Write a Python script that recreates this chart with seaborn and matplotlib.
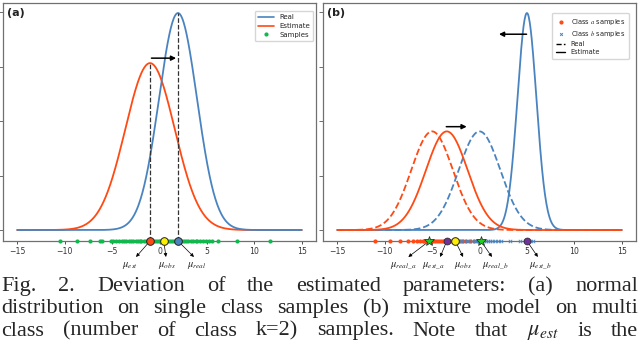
import numpy as np
import pandas as pd
import seaborn as sns
import matplotlib.pyplot as plt
from matplotlib.lines import Line2D

# ---------------- values ----------------
x_range = (-15, 15)
x_ticks = [-15, -10, -5, 0, 5, 10, 15]

# (a) single class
a_real_mu, a_real_sd = 1.95, 2.0
a_est_mu, a_est_sd = -1.0, 2.6
a_obs_mu = 0.45
a_samples = [-10.5, -8.7, -7.3, -6.3, -6.1, -5.1, -4.9, -4.6, -4.3, -4.0, -3.7,
             -3.5, -3.2, -3.0, -2.8, -2.5, -2.3, -2.1, -1.9, -1.6, -1.4, -1.2,
             -0.9, -0.7, -0.5, -0.3, -0.1, 0.1, 0.3, 0.5, 0.7, 0.9, 1.1, 1.3,
             1.5, 1.7, 1.9, 2.2, 2.4, 2.6, 2.8, 3.0, 3.3, 3.5, 3.8, 4.0, 4.3,
             4.6, 4.9, 5.2, 5.5, 6.2, 8.2, 11.7]

# (b) mixture of two classes
b_real_mu = [-5.0, 0.0]
b_real_sd = [2.2, 2.2]
b_est_mu = [-3.45, 5.0]
b_est_sd = [2.2, 1.0]
b_real_marks = [-5.3, 0.15]
b_obs_mu = -2.55
b_samples_a = [-11.0, -9.4, -8.4, -7.5, -7.0, -6.6, -6.3, -6.0, -5.8, -5.5, -5.3,
               -5.1, -4.9, -4.7, -4.5, -4.3, -4.1, -3.9, -3.7, -3.5, -3.3, -3.1,
               -2.9, -2.7, -2.5, -2.2, -2.0, -1.7, -1.4, -1.0, -0.6, -0.2]
b_samples_b = [-2.0, -1.6, -1.3, -1.0, -0.8, -0.5, -0.3, -0.1, 0.1, 0.3, 0.5,
               0.7, 0.9, 1.1, 1.3, 1.6, 1.9, 2.3, 3.2, 4.3, 4.8, 5.3, 5.6]

caption = [
    "Fig. 2. Deviation of the estimated parameters: (a) normal",
    "distribution on single class samples (b) mixture model on multi",
    "class (number of class k=2) samples. Note that $\\mu_{est}$ is the",
]

BLUE = "#4a84c0"
ORANGE = "#ff4a14"
GREEN = "#12b84e"
PURPLE = "#7030a0"
STAR = "#22cc22"

sns.set_style("white")
plt.rcParams["font.family"] = ["DejaVu Sans"]
plt.rcParams["mathtext.fontset"] = "stix"

W, H = 640, 356
fig = plt.figure(figsize=(6.4, 3.56), dpi=100)
ax_a = fig.add_axes([3 / W, 1 - 241 / H, 313 / W, 238 / H])
ax_b = fig.add_axes([323 / W, 1 - 241 / H, 313 / W, 238 / H])

xs = np.linspace(x_range[0], x_range[1], 601)


def pdf(mu, sd):
    return np.exp(-0.5 * ((xs - mu) / sd) ** 2) / (sd * np.sqrt(2 * np.pi))


def style_axes(ax, ylim):
    ax.set_xlim(-16.5, 16.5)
    ax.set_ylim(*ylim)
    ax.set_xticks(x_ticks)
    ax.set_xticklabels([str(t).replace("-", "\u2212") for t in x_ticks])
    ax.tick_params(axis="x", labelsize=5.6, length=2.5, width=0.6, pad=1.5,
                   colors="#333333", bottom=True)
    ax.tick_params(axis="y", left=True, length=3, width=0.6, labelleft=False,
                   colors="#555555")
    for s in ax.spines.values():
        s.set_color("#707070")
        s.set_linewidth(0.9)
    ax.set_xlabel("")
    ax.set_ylabel("")


def mu_note(ax, start, head, text_x, label):
    ax.annotate("", xy=(head, -0.067), xycoords=("data", "axes fraction"),
                xytext=(start, 0), textcoords=("data", "axes fraction"),
                arrowprops=dict(arrowstyle="-|>", color="k", lw=0.5,
                                mutation_scale=5, shrinkA=2, shrinkB=0))
    ax.text(text_x, -0.105, label, transform=ax.get_xaxis_transform(),
            ha="center", va="center", fontsize=7.5)


# ---------------- panel (a) ----------------
ylim_a = (-0.0101, 0.2087)
real_a = pdf(a_real_mu, a_real_sd)
est_a = pdf(a_est_mu, a_est_sd)
sns.lineplot(x=xs, y=est_a, ax=ax_a, color=ORANGE, lw=1.3)
sns.lineplot(x=xs, y=real_a, ax=ax_a, color=BLUE, lw=1.3)
ax_a.vlines(a_est_mu, ylim_a[0], est_a.max(), colors="#333333", linestyles="--", lw=0.9)
ax_a.vlines(a_real_mu, ylim_a[0], real_a.max(), colors="#333333", linestyles="--", lw=0.9)
ax_a.annotate("", xy=(1.75, 0.158), xytext=(-0.85, 0.158),
              arrowprops=dict(arrowstyle="-|>", color="k", lw=1.1, mutation_scale=7,
                              shrinkA=0, shrinkB=0))
sns.scatterplot(x=a_samples, y=[ylim_a[0]] * len(a_samples), ax=ax_a, color=GREEN,
                s=9, linewidth=0, clip_on=False, zorder=4)
for mu, c in [(a_est_mu, ORANGE), (a_obs_mu, "#ffee00"), (a_real_mu, BLUE)]:
    ax_a.plot(mu, ylim_a[0], "o", ms=5.5, mfc=c, mec="#222222", mew=0.7,
              clip_on=False, zorder=6)
style_axes(ax_a, ylim_a)
mu_note(ax_a, a_est_mu, -2.47, -3.1, "$\\mu_{est}$")
mu_note(ax_a, a_obs_mu, 0.68, 0.8, "$\\mu_{obs}$")
mu_note(ax_a, a_real_mu, 3.63, 3.95, "$\\mu_{real}$")
ax_a.text(0.014, 0.978, "(a)", transform=ax_a.transAxes, fontsize=8,
          fontweight="semibold", va="top", ha="left", color="#222222")
handles_a = [Line2D([], [], color=BLUE, lw=1.2, label="Real"),
             Line2D([], [], color=ORANGE, lw=1.2, label="Estimate"),
             Line2D([], [], color=GREEN, marker="o", ls="", ms=2, label="Samples")]
ax_a.legend(handles=handles_a, loc="upper right", bbox_to_anchor=(0.992, 0.967),
            fontsize=5, frameon=True, fancybox=True, edgecolor="#cccccc",
            handlelength=2.2, borderpad=0.5, labelspacing=0.4, borderaxespad=0)

# ---------------- panel (b) ----------------
ylim_b = (-0.0202, 0.4174)
curves = [(b_real_mu[1], b_real_sd[1], BLUE, "--"),
          (b_est_mu[1], b_est_sd[1], BLUE, "-"),
          (b_real_mu[0], b_real_sd[0], ORANGE, "--"),
          (b_est_mu[0], b_est_sd[0], ORANGE, "-")]
for mu, sd, c, ls in curves:
    sns.lineplot(x=xs, y=pdf(mu, sd), ax=ax_b, color=c, lw=1.3, linestyle=ls)
ax_b.annotate("", xy=(2.05, 0.36), xytext=(4.96, 0.36),
              arrowprops=dict(arrowstyle="-|>", color="k", lw=1.1, mutation_scale=7,
                              shrinkA=0, shrinkB=0))
ax_b.annotate("", xy=(-1.35, 0.19), xytext=(-3.5, 0.19),
              arrowprops=dict(arrowstyle="-|>", color="k", lw=1.1, mutation_scale=7,
                              shrinkA=0, shrinkB=0))
sns.scatterplot(x=b_samples_a, y=[ylim_b[0]] * len(b_samples_a), ax=ax_b,
                color=ORANGE, s=9, linewidth=0, clip_on=False, zorder=4)
sns.scatterplot(x=b_samples_b, y=[ylim_b[0]] * len(b_samples_b), ax=ax_b,
                color=BLUE, marker="x", s=6, linewidth=0.6, clip_on=False, zorder=4)
for mu in b_real_marks:
    ax_b.plot(mu, ylim_b[0], "*", ms=7, mfc=STAR, mec="#222222", mew=0.5,
              clip_on=False, zorder=6)
for mu in b_est_mu:
    ax_b.plot(mu, ylim_b[0], "o", ms=5, mfc=PURPLE, mec="#222222", mew=0.5,
              clip_on=False, zorder=6)
ax_b.plot(b_obs_mu, ylim_b[0], "o", ms=5.5, mfc="#ffee00", mec="#222222", mew=0.7,
          clip_on=False, zorder=6)
style_axes(ax_b, ylim_b)
mu_note(ax_b, b_real_marks[0], -7.5, -8.0, "$\\mu_{real\\_a}$")
mu_note(ax_b, b_est_mu[0], -4.15, -4.9, "$\\mu_{est\\_a}$")
mu_note(ax_b, b_obs_mu, -1.73, -1.75, "$\\mu_{obs}$")
mu_note(ax_b, b_real_marks[1], 1.31, 1.65, "$\\mu_{real\\_b}$")
mu_note(ax_b, b_est_mu[1], 6.15, 6.4, "$\\mu_{est\\_b}$")
ax_b.text(0.014, 0.978, "(b)", transform=ax_b.transAxes, fontsize=8,
          fontweight="semibold", va="top", ha="left", color="#222222")
handles_b = [Line2D([], [], color=ORANGE, marker="o", ls="", ms=2, label="Class $a$ samples"),
             Line2D([], [], color=BLUE, marker="x", ls="", ms=2, mew=0.7, label="Class $b$ samples"),
             Line2D([], [], color="k", lw=1.0, ls="--", label="Real"),
             Line2D([], [], color="k", lw=1.0, label="Estimate")]
ax_b.legend(handles=handles_b, loc="upper right", bbox_to_anchor=(0.977, 0.958),
            fontsize=4.8, frameon=True, fancybox=True, edgecolor="#cccccc",
            handlelength=1.4, borderpad=0.6, labelspacing=0.3, borderaxespad=0)

# ---------------- caption, justified ----------------
renderer = fig.canvas.get_renderer()
baselines = [291, 313, 335.5]
for line, yb in zip(caption, baselines):
    words = line.split(" ")
    txts = [fig.text(0, 1 - yb / H, w, va="baseline", ha="left",
                     family="Liberation Serif", fontsize=16) for w in words]
    widths = [t.get_window_extent(renderer).width for t in txts]
    gap = (638 - 1 - sum(widths)) / (len(words) - 1)
    xpos = 1
    for t, wd in zip(txts, widths):
        t.set_x(xpos / W)
        xpos += wd + gap

fig.savefig("out.png", dpi=100)
